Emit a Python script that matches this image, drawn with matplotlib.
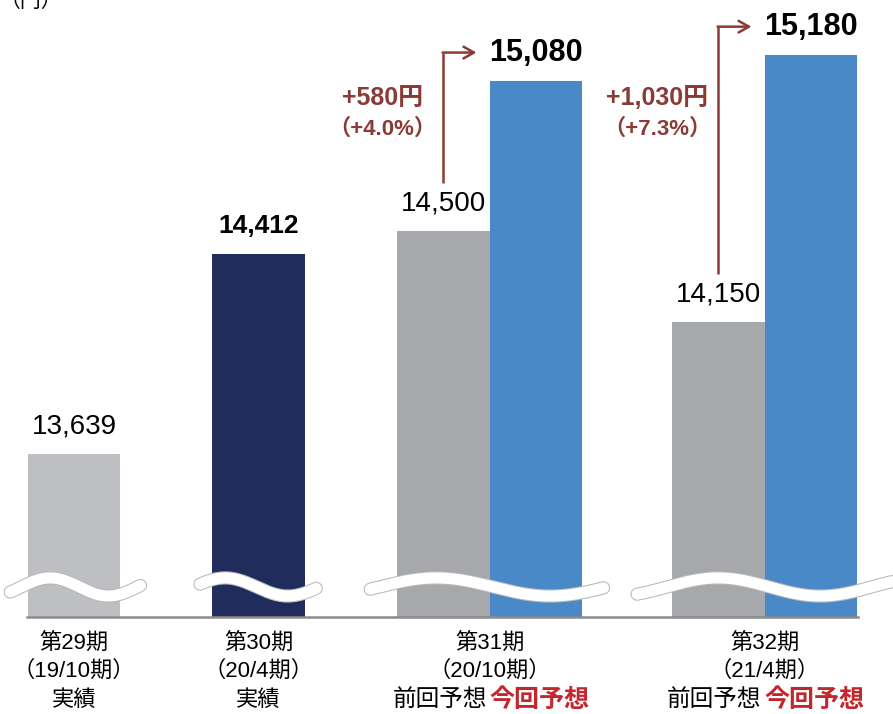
import numpy as np
import matplotlib
matplotlib.use("Agg")
import matplotlib.pyplot as plt
import matplotlib.transforms as mtransforms

plt.rcParams['font.family'] = ['Liberation Sans', 'Noto Sans CJK JP']

# データ
categories = ['第29期', '第30期', '第31期', '第32期']
periods = ['（19/10期）', '（20/4期）', '（20/10期）', '（21/4期）']
actual_labels = ['実績', '実績']
actual = [13639, 14412]
previous_forecast = [14500, 14150]
current_forecast = [15080, 15180]

# 色
c_actual = ['#BEBFC3', '#1F2C5C']
c_prev = '#A7A8AC'
c_curr = '#4A89C8'
c_arrow = '#8A3B36'
c_red = '#C3262B'

fig = plt.figure(figsize=(8.93, 7.14), dpi=100)
ax = fig.add_axes([27 / 893, 97 / 714, 831 / 893, 617 / 714])
ax.set_xlim(0, 8.935)
ax.set_ylim(13010, 15393)

w = 0.99
x_actual = [0.505, 2.489]
x_prev = [4.478, 7.435]
x_curr = [5.473, 8.43]
x_group = [0.505, 2.489, 4.975, 7.93]

ax.bar(x_actual, actual, width=w, color=c_actual, zorder=2)
ax.bar(x_prev, previous_forecast, width=w, color=c_prev, zorder=2)
ax.bar(x_curr, current_forecast, width=w, color=c_curr, zorder=2)

# 値ラベル
def value_label(x, v, bold=False, size=20):
    ax.annotate(f'{v:,}', xy=(x, v), xytext=(0, 20), textcoords='offset points',
                ha='center', va='center', fontsize=size,
                fontweight='bold' if bold else 'normal', color='black')

value_label(x_actual[0], actual[0])
value_label(x_actual[1], actual[1], bold=True, size=19)
for i in range(2):
    value_label(x_prev[i], previous_forecast[i])
    value_label(x_curr[i], current_forecast[i], bold=True, size=22)

# 矢印と増減
for i in range(2):
    prev, curr = previous_forecast[i], current_forecast[i]
    top = curr + 110
    bottom = prev + 185
    ax.plot([x_prev[i], x_prev[i]], [bottom, top], color=c_arrow, lw=1.8,
            solid_capstyle='butt', zorder=3)
    ax.annotate('', xy=(x_curr[i] - 0.64, top), xytext=(x_prev[i] - 0.01, top),
                arrowprops=dict(arrowstyle='->,head_length=0.75,head_width=0.42',
                                color=c_arrow, lw=1.8, shrinkA=0, shrinkB=0))
    diff = curr - prev
    pct = diff / prev * 100
    ax.text(x_prev[i] - 0.66, 15015, f'+{diff:,}円', ha='center', va='center',
            fontsize=18, fontweight='bold', color=c_arrow)
    ax.text(x_prev[i] - 0.66, 14893, f'（+{pct:.1f}%）', ha='center', va='center',
            fontsize=16, fontweight='bold', color=c_arrow)

# 波線（省略記号）
waves = [(-0.18, 1.22, 0.25, 1.25), (1.86, 3.11, 2.13, 1.35),
         (3.69, 6.2, 4.4, 2.45), (6.56, 9.3, 7.43, 2.2)]
for xs, xe, crest, per in waves:
    xx = np.linspace(xs, xe, 200)
    yy = 13126 + 35 * np.cos(2 * np.pi * (xx - crest) / per)
    ax.plot(xx, yy, color='#B8B8B8', lw=9.5, solid_capstyle='round', zorder=4,
            clip_on=False)
    ax.plot(xx, yy, color='white', lw=8, solid_capstyle='round', zorder=5,
            clip_on=False)

# 軸
for s in ['top', 'right', 'left']:
    ax.spines[s].set_visible(False)
ax.spines['bottom'].set_color('#8C8C8C')
ax.spines['bottom'].set_linewidth(1.8)
ax.set_xticks([])
ax.set_yticks([])

# カテゴリラベル
trans = mtransforms.blended_transform_factory(ax.transData, ax.transAxes)
for i in range(4):
    ax.text(x_group[i], -0.042, categories[i], transform=trans, ha='center',
            va='center', fontsize=16)
    ax.text(x_group[i], -0.0875, periods[i], transform=trans, ha='center',
            va='center', fontsize=16)
for i in range(2):
    ax.text(x_group[i], -0.1345, actual_labels[i], transform=trans, ha='center',
            va='center', fontsize=16)
for i in range(2, 4):
    ax.text(x_group[i] - 0.03, -0.1345, '前回予想', transform=trans, ha='right',
            va='center', fontsize=17)
    ax.text(x_group[i] + 0.0, -0.1345, '今回予想', transform=trans, ha='left',
            va='center', fontsize=18, fontweight='bold', color=c_red)

fig.text(0.0, 0.998, '（円）', ha='left', va='center', fontsize=15)

fig.savefig('out.png', dpi=100)
